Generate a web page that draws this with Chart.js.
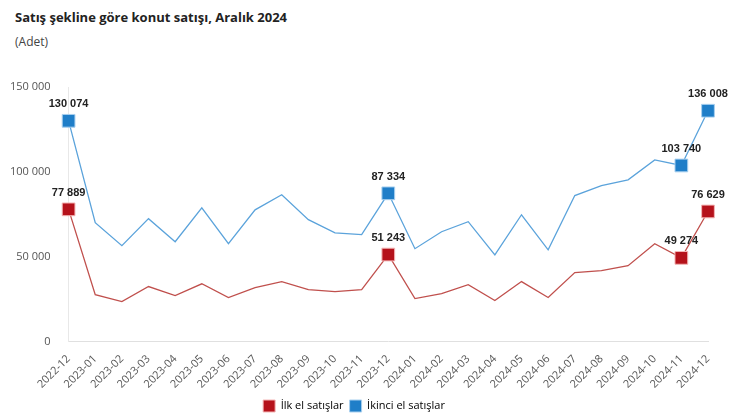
<!DOCTYPE html>
<html>
<head>
<meta charset="utf-8">
<script src="https://cdn.jsdelivr.net/npm/chart.js@4.4.1/dist/chart.umd.min.js"></script>
<style>
  body { margin: 0; background: #fff; font-family: "Open Sans", sans-serif; }
  #wrap { position: relative; width: 730px; height: 420px; overflow: hidden; }
  #title { position: absolute; left: 15px; top: 8px; font-size: 13px; font-weight: bold; color: #222; }
  #sub { position: absolute; left: 15px; top: 33px; font-size: 12px; color: #444; }
  #box { position: absolute; left: 0; top: 60px; width: 730px; height: 362px; }
</style>
</head>
<body>
<div id="wrap">
  <div id="title">Satış şekline göre konut satışı, Aralık 2024</div>
  <div id="sub">(Adet)</div>
  <div id="box"><canvas id="c"></canvas></div>
</div>
<script>
const months = ['2022-12', '2023-01', '2023-02', '2023-03', '2023-04', '2023-05', '2023-06',
  '2023-07', '2023-08', '2023-09', '2023-10', '2023-11', '2023-12', '2024-01', '2024-02',
  '2024-03', '2024-04', '2024-05', '2024-06', '2024-07', '2024-08', '2024-09', '2024-10',
  '2024-11', '2024-12'];
const firstHand = [77889, 27600, 23500, 32400, 27000, 34000, 25900, 31800, 35300, 30600, 29400,
  30600, 51243, 25300, 28200, 33500, 24100, 35300, 25900, 40600, 41800, 44700, 57600, 49274, 76629];
const secondHand = [130074, 70000, 56500, 72400, 58800, 78800, 57600, 77600, 86500, 71800, 64000,
  63000, 87334, 54700, 64700, 70600, 51000, 74700, 54000, 86000, 91800, 95300, 107000, 103740, 136008];
const yTicks = [0, 50000, 100000, 150000];
const marked = [0, 12, 23, 24];

const fmt = v => String(v).replace(/\B(?=(\d{3})+(?!\d))/g, ' ');

// labels above the highlighted square markers
const pointLabels = {
  id: 'pointLabels',
  afterDatasetsDraw(chart) {
    const ctx = chart.ctx;
    ctx.save();
    ctx.font = 'bold 11px "Liberation Sans", Arial, sans-serif';
    ctx.fillStyle = '#222';
    ctx.textAlign = 'center';
    ctx.textBaseline = 'bottom';
    chart.data.datasets.forEach((ds, i) => {
      const meta = chart.getDatasetMeta(i);
      marked.forEach(idx => {
        const p = meta.data[idx];
        ctx.fillText(fmt(ds.data[idx]), p.x, p.y - 11);
      });
    });
    ctx.restore();
  }
};

const markerSize = ctx => marked.includes(ctx.dataIndex) ? 9 : 0;

new Chart(document.getElementById('c'), {
  type: 'line',
  data: {
    labels: months,
    datasets: [
      {
        label: 'İlk el satışlar',
        data: firstHand,
        borderColor: '#c0504d',
        backgroundColor: '#b5121b',
        borderWidth: 1.3,
        pointStyle: 'rect',
        pointRadius: markerSize,
        pointHoverRadius: markerSize,
        pointBackgroundColor: '#b5121b',
        pointBorderColor: '#f4b6b6',
        pointBorderWidth: 1,
        tension: 0
      },
      {
        label: 'İkinci el satışlar',
        data: secondHand,
        borderColor: '#5ba3db',
        backgroundColor: '#1f7ec8',
        borderWidth: 1.3,
        pointStyle: 'rect',
        pointRadius: markerSize,
        pointHoverRadius: markerSize,
        pointBackgroundColor: '#1f7ec8',
        pointBorderColor: '#a9d0ef',
        pointBorderWidth: 1,
        tension: 0
      }
    ]
  },
  options: {
    responsive: true,
    maintainAspectRatio: false,
    animation: false,
    layout: { padding: { top: 27, right: 22, left: 0, bottom: 0 } },
    scales: {
      x: {
        offset: false,
        grid: { display: false },
        border: { display: true, color: '#e0e0e0' },
        ticks: {
          color: '#555',
          font: { size: 11, family: '"Open Sans", sans-serif' },
          minRotation: 45,
          maxRotation: 45,
          autoSkip: false
        }
      },
      y: {
        min: 0,
        max: 150000,
        afterBuildTicks: axis => { axis.ticks = yTicks.map(v => ({ value: v })); },
        grid: { display: false },
        border: { display: true, color: '#e8e8e8' },
        ticks: {
          color: '#555',
          padding: 10,
          font: { size: 11, family: '"Open Sans", sans-serif' },
          callback: v => fmt(v)
        }
      }
    },
    plugins: {
      legend: {
        position: 'bottom',
        labels: {
          color: '#333',
          boxWidth: 12,
          boxHeight: 12,
          padding: 6,
          font: { size: 11, family: '"Open Sans", sans-serif' },
          generateLabels: chart => chart.data.datasets.map((ds, i) => ({
            text: ds.label,
            fillStyle: ds.backgroundColor,
            strokeStyle: ds.pointBorderColor,
            lineWidth: 1,
            datasetIndex: i
          }))
        }
      },
      tooltip: { enabled: false }
    }
  },
  plugins: [pointLabels]
});
</script>
</body>
</html>
